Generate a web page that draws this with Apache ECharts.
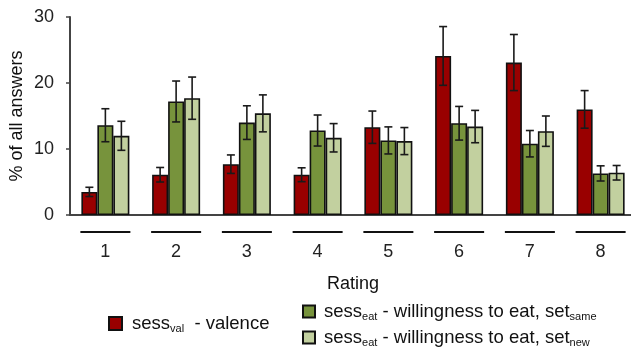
<!DOCTYPE html>
<html>
<head>
<meta charset="utf-8">
<script src="https://cdn.jsdelivr.net/npm/echarts@6/dist/echarts.min.js"></script>
<style>html,body{margin:0;padding:0;background:#fff}#c{width:631px;height:350px}</style>
</head>
<body>
<div id="c"></div>
<script>
var categories = ['1','2','3','4','5','6','7','8'];
var valence    = [3.5, 6.1, 7.7, 6.1, 13.3, 24.1, 23.1, 16.0];
var valenceErr = [0.7, 1.1, 1.4, 1.05, 2.45, 4.45, 4.25, 2.85];
var eatSame    = [13.6, 17.2, 14.0, 12.8, 11.3, 13.9, 10.8, 6.3];
var eatSameErr = [2.5, 3.1, 2.55, 2.35, 2.05, 2.55, 2.0, 1.15];
var eatNew     = [12.0, 17.7, 15.4, 11.7, 11.2, 13.4, 12.7, 6.4];
var eatNewErr  = [2.2, 3.2, 2.8, 2.15, 2.05, 2.45, 2.3, 1.1];
var yTicks = [0, 10, 20, 30];

var FONT = 'Liberation Sans, Arial, sans-serif';
var BW = 16;
var colors = ['#990000', '#77933c', '#c2d09f'];

function errData(vals, errs) {
  return vals.map(function (v, i) { return [i, v - errs[i], v + errs[i]]; });
}
function errSeries(vals, errs, k) {
  var off = (k - 1) * BW;
  return {
    type: 'custom',
    z: 10,
    silent: true,
    data: errData(vals, errs),
    renderItem: function (params, api) {
      var lo = api.coord([api.value(0), api.value(1)]);
      var hi = api.coord([api.value(0), api.value(2)]);
      var x = lo[0] + off;
      var c = 4;
      var st = { stroke: '#1a1a1a', lineWidth: 1.6 };
      return {
        type: 'group',
        children: [
          { type: 'line', shape: { x1: x, y1: lo[1], x2: x, y2: hi[1] }, style: st },
          { type: 'line', shape: { x1: x - c, y1: lo[1], x2: x + c, y2: lo[1] }, style: st },
          { type: 'line', shape: { x1: x - c, y1: hi[1], x2: x + c, y2: hi[1] }, style: st }
        ]
      };
    }
  };
}
function barSeries(name, vals, k) {
  return {
    name: name,
    type: 'bar',
    data: vals,
    barWidth: BW,
    barGap: '0%',
    itemStyle: { color: colors[k], borderColor: '#111', borderWidth: 1.6 }
  };
}

function makeRich(gap) {
  return {
    p: { width: gap, height: 1 },
    a: { fontSize: 18.5, fontFamily: FONT, color: '#111', lineHeight: 20 },
    s: { fontSize: 11, fontFamily: FONT, color: '#111', lineHeight: 12, padding: [10, 0, 0, 0] }
  };
}
var legendLabels = {
  val: '{p|}{a|sess}{s|val}{a|  - valence}',
  same: '{p|}{a|sess}{s|eat}{a| - willingness to eat, set}{s|same}',
  'new': '{p|}{a|sess}{s|eat}{a| - willingness to eat, set}{s|new}'
};

var chart = echarts.init(document.getElementById('c'), null, { renderer: 'canvas' });
chart.setOption({
  animation: false,
  backgroundColor: '#fff',
  grid: { left: 70, right: -5, top: 17, bottom: 135, containLabel: false, outerBoundsMode: 'none' },
  legend: [
    {
      data: ['val'], left: 108, top: 313, padding: 0, itemWidth: 13, itemHeight: 13, itemGap: 10,
      icon: 'rect',
      formatter: function (n) { return legendLabels[n]; },
      textStyle: { rich: makeRich(5) }
    },
    {
      data: ['same', 'new'], orient: 'vertical', left: 302, top: 301, padding: 0, height: 62, width: 330,
      itemWidth: 12, itemHeight: 12, itemGap: 5,
      icon: 'rect',
      formatter: function (n) { return legendLabels[n]; },
      textStyle: { rich: makeRich(4) }
    }
  ],
  xAxis: {
    type: 'category',
    data: categories,
    axisTick: { show: false },
    axisLine: { lineStyle: { color: '#444', width: 2 } },
    axisLabel: {
      interval: 0,
      margin: 16,
      formatter: function (v) { return '{l|}\n{n|' + v + '}'; },
      rich: {
        l: { width: 50, height: 2, lineHeight: 2, backgroundColor: '#111' },
        n: { fontSize: 18, fontFamily: FONT, color: '#222', lineHeight: 38 }
      }
    },
    name: 'Rating',
    nameLocation: 'middle',
    nameGap: 60,
    nameMoveOverlap: false,
    nameTextStyle: { fontSize: 18, fontFamily: FONT, color: '#111' }
  },
  yAxis: {
    type: 'value',
    min: yTicks[0],
    max: yTicks[yTicks.length - 1],
    interval: 10,
    splitLine: { show: false },
    axisLine: { show: true, lineStyle: { color: '#444', width: 2 } },
    axisTick: { show: true, length: 4, lineStyle: { color: '#444', width: 1.5 } },
    axisLabel: { fontSize: 18, fontFamily: FONT, color: '#222', margin: 16 },
    name: '% of all answers',
    nameLocation: 'middle',
    nameGap: 44,
    nameMoveOverlap: false,
    nameTextStyle: { fontSize: 18, fontFamily: FONT, color: '#111' }
  },
  series: [
    barSeries('val', valence, 0),
    barSeries('same', eatSame, 1),
    barSeries('new', eatNew, 2),
    errSeries(valence, valenceErr, 0),
    errSeries(eatSame, eatSameErr, 1),
    errSeries(eatNew, eatNewErr, 2)
  ]
});
</script>
</body>
</html>
